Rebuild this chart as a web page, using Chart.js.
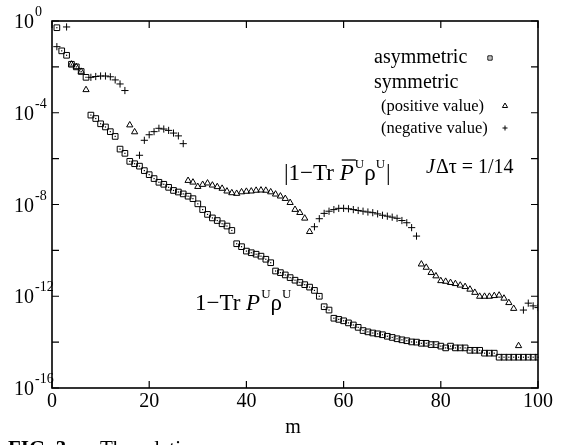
<!DOCTYPE html>
<html>
<head>
<meta charset="utf-8">
<script src="https://cdn.jsdelivr.net/npm/chart.js@4.4.1/dist/chart.umd.min.js"></script>
<style>
  html, body { margin: 0; padding: 0; background: #fff; overflow: hidden; }
  #wrap { width: 564px; height: 445px; position: relative; }
</style>
</head>
<body>
<div id="wrap"><canvas id="chart"></canvas></div>
<script>
// m values and errors (log y axis)
const asymM = [1,2,3,4,5,6,7,8,9,10,11,12,13,14,15,16,17,18,19,20,
  21,22,23,24,25,26,27,28,29,30,31,32,33,34,35,36,37,38,39,40,
  41,42,43,44,45,46,47,48,49,50,51,52,53,54,55,56,57,58,59,60,
  61,62,63,64,65,66,67,68,69,70,71,72,73,74,75,76,77,78,79,80,
  81,82,83,84,85,86,87,88,89,90,91,92,93,94,95,96,97,98,99,100];
const asymVal = [5.1e-1,5.0e-2,3.2e-2,1.3e-2,1.0e-2,6.3e-3,3.5e-3,7.9e-5,5.6e-5,3.3e-5,
  2.4e-5,1.5e-5,9.3e-6,2.6e-6,1.7e-6,7.6e-7,6.0e-7,4.7e-7,3.0e-7,2.0e-7,
  1.35e-7,9.3e-8,7.6e-8,5.6e-8,4.1e-8,3.5e-8,2.9e-8,2.3e-8,1.8e-8,1.07e-8,
  6.0e-9,3.7e-9,2.6e-9,2.0e-9,1.45e-9,1.15e-9,7.4e-10,1.95e-10,1.45e-10,9.3e-11,
  7.9e-11,6.8e-11,5.6e-11,4.1e-11,2.9e-11,1.26e-11,1.07e-11,8.5e-12,6.5e-12,5.0e-12,
  4.0e-12,3.2e-12,2.5e-12,1.8e-12,1.0e-12,3.5e-13,2.5e-13,1.1e-13,9.8e-14,8.5e-14,
  6.9e-14,5.6e-14,4.4e-14,3.2e-14,2.8e-14,2.5e-14,2.3e-14,2.1e-14,1.8e-14,1.6e-14,
  1.4e-14,1.26e-14,1.15e-14,1.02e-14,1.0e-14,8.9e-15,8.9e-15,7.8e-15,7.8e-15,6.7e-15,
  5.6e-15,6.7e-15,5.6e-15,5.6e-15,5.6e-15,4.4e-15,4.4e-15,4.4e-15,3.3e-15,3.3e-15,
  3.3e-15,2.2e-15,2.2e-15,2.2e-15,2.2e-15,2.2e-15,2.2e-15,2.2e-15,2.2e-15,2.2e-15];

const posM = [4,5,6,7,16,17,
  28,29,30,31,32,33,34,35,36,37,38,39,40,41,42,43,44,45,46,47,48,49,50,51,52,53,
  76,77,78,79,80,81,82,83,84,85,86,87,88,89,90,91,92,93,94,95,96];
const posVal = [1.3e-2,1.0e-2,6.3e-3,1.0e-3,2.9e-5,1.45e-5,
  1.1e-7,9.3e-8,6.0e-8,7.4e-8,8.5e-8,6.9e-8,5.9e-8,5.0e-8,3.8e-8,3.2e-8,3.0e-8,3.5e-8,3.7e-8,3.8e-8,
  4.1e-8,4.2e-8,4.1e-8,3.5e-8,2.8e-8,2.3e-8,1.8e-8,1.2e-8,6.0e-9,4.4e-9,2.5e-9,6.5e-10,
  2.5e-11,1.8e-11,1.07e-11,7.6e-12,4.7e-12,4.4e-12,3.9e-12,3.5e-12,3.0e-12,2.6e-12,2.0e-12,
  1.45e-12,9.8e-13,9.8e-13,9.8e-13,1.05e-12,1.1e-12,8.1e-13,5.2e-13,2.9e-13,6.9e-15];

const negM = [1,3,8,9,10,11,12,13,14,15,
  18,19,20,21,22,23,24,25,26,27,
  54,55,56,57,58,59,60,61,62,63,64,65,66,67,68,69,70,71,72,73,74,75,
  97,98,99,100];
const negVal = [7.6e-2,5.5e-1,3.5e-3,3.8e-3,4.0e-3,4.0e-3,3.7e-3,2.7e-3,1.8e-3,9.3e-4,
  1.4e-6,6.3e-6,1.1e-5,1.5e-5,2.1e-5,1.95e-5,1.7e-5,1.3e-5,9.8e-6,4.5e-6,
  1.07e-9,2.4e-9,4.1e-9,5.1e-9,6.0e-9,6.8e-9,6.8e-9,6.5e-9,6.0e-9,5.5e-9,
  5.1e-9,4.7e-9,4.4e-9,3.9e-9,3.4e-9,3.1e-9,2.8e-9,2.5e-9,2.0e-9,1.6e-9,9.8e-10,4.2e-10,
  2.5e-13,5.0e-13,3.8e-13,3.2e-13];

const xTicks = [0, 20, 40, 60, 80, 100];
const yTicks = [1, 1e-2, 1e-4, 1e-6, 1e-8, 1e-10, 1e-12, 1e-14, 1e-16];
const yLabelExp = [0, -4, -8, -12, -16];

const SERIF = '"Liberation Serif", "Times New Roman", serif';

function pts(xs, ys) {
  return xs.map((x, i) => ({ x: x, y: ys[i] }));
}

// draw a run of text pieces: {t, size, italic, dy}
function drawRuns(ctx, runs, x, y) {
  let cx = x;
  runs.forEach(r => {
    ctx.font = (r.italic ? 'italic ' : '') + r.size + 'px ' + SERIF;
    ctx.fillText(r.t, cx, y + (r.dy || 0));
    cx += ctx.measureText(r.t).width + (r.gap || 0);
    r.end = cx;
  });
  return cx;
}

const decor = {
  id: 'decor',
  afterDatasetsDraw(chart) {
    const ctx = chart.ctx;
    const a = chart.chartArea;
    const xs = chart.scales.x, ys = chart.scales.y;
    ctx.save();

    // centre dots of the asymmetric squares
    ctx.fillStyle = '#000';
    chart.getDatasetMeta(0).data.forEach(p => {
      ctx.fillRect(p.x - 0.6, p.y - 0.6, 1.2, 1.2);
    });

    // frame
    ctx.strokeStyle = '#000';
    ctx.lineWidth = 1.6;
    ctx.strokeRect(a.left, a.top, a.right - a.left, a.bottom - a.top);

    // inward ticks
    ctx.lineWidth = 1.2;
    ctx.beginPath();
    xTicks.forEach(v => {
      const px = xs.getPixelForValue(v);
      ctx.moveTo(px, a.bottom); ctx.lineTo(px, a.bottom - 7);
      ctx.moveTo(px, a.top); ctx.lineTo(px, a.top + 7);
    });
    yTicks.forEach(v => {
      const py = ys.getPixelForValue(v);
      ctx.moveTo(a.left, py); ctx.lineTo(a.left + 7, py);
      ctx.moveTo(a.right, py); ctx.lineTo(a.right - 7, py);
    });
    ctx.stroke();

    // tick labels
    ctx.fillStyle = '#000';
    ctx.textBaseline = 'alphabetic';
    ctx.font = '20px ' + SERIF;
    ctx.textAlign = 'center';
    xTicks.forEach(v => {
      ctx.fillText(String(v), xs.getPixelForValue(v), a.bottom + 19);
    });
    yLabelExp.forEach(e => {
      const py = ys.getPixelForValue(Math.pow(10, e));
      ctx.textAlign = 'right';
      ctx.font = '20px ' + SERIF;
      ctx.fillText('10', 34, py + 7);
      ctx.textAlign = 'left';
      ctx.font = '14px ' + SERIF;
      ctx.fillText(e === 0 ? '0' : String(e), 35, py - 5);
    });

    // axis title
    ctx.textAlign = 'center';
    ctx.font = '20px ' + SERIF;
    ctx.fillText('m', (a.left + a.right) / 2 - 2, 433);

    // legend
    ctx.textAlign = 'left';
    ctx.font = '20px ' + SERIF;
    ctx.fillText('asymmetric', 374, 63);
    ctx.fillText('symmetric', 374, 88);
    ctx.font = '16.5px ' + SERIF;
    ctx.fillText('(positive value)', 381, 111);
    ctx.fillText('(negative value)', 381, 133);
    ctx.lineWidth = 1;
    ctx.strokeStyle = '#000';
    ctx.fillStyle = 'rgba(0,0,0,0)';
    Chart.helpers.drawPoint(ctx, { pointStyle: 'rect', radius: 3, rotation: 0, borderWidth: 1 }, 490, 58);
    Chart.helpers.drawPoint(ctx, { pointStyle: 'triangle', radius: 3, rotation: 0, borderWidth: 1 }, 505, 106);
    Chart.helpers.drawPoint(ctx, { pointStyle: 'cross', radius: 2.5, rotation: 0, borderWidth: 1 }, 505, 128);
    ctx.fillStyle = '#000';
    ctx.fillRect(489.5, 57.5, 1, 1);

    // J dtau label
    drawRuns(ctx, [
      { t: 'J', size: 20, italic: true, gap: 1 },
      { t: '\u0394\u03c4 = 1/14', size: 20 }
    ], 426, 173);

    // |1 - Tr Pbar rho|
    const r1 = [
      { t: '|1\u2212Tr ', size: 23 },
      { t: 'P', size: 23, italic: true, gap: 1 },
      { t: 'U', size: 13, dy: -12 },
      { t: '\u03c1', size: 23 },
      { t: 'U', size: 13, dy: -12, gap: 1 },
      { t: '|', size: 23 }
    ];
    drawRuns(ctx, r1, 284, 180);
    // bar over P
    const pStart = r1[0].end, pEnd = r1[1].end;
    ctx.lineWidth = 1.3;
    ctx.beginPath();
    ctx.moveTo(pStart + 2, 160); ctx.lineTo(pEnd + 1, 160);
    ctx.stroke();

    // 1 - Tr P rho
    drawRuns(ctx, [
      { t: '1\u2212Tr ', size: 23 },
      { t: 'P', size: 23, italic: true, gap: 1 },
      { t: 'U', size: 13, dy: -12 },
      { t: '\u03c1', size: 23 },
      { t: 'U', size: 13, dy: -12 }
    ], 195, 310);

    // caption, cut off by the page edge
    ctx.font = 'bold 21px ' + SERIF;
    ctx.fillText('FIG. 3:', 8, 455);
    ctx.font = '21px ' + SERIF;
    ctx.fillText('The relative', 100, 455);

    ctx.restore();
  }
};

new Chart(document.getElementById('chart'), {
  type: 'scatter',
  data: {
    datasets: [
      {
        label: 'asymmetric',
        data: pts(asymM, asymVal),
        pointStyle: 'rect',
        pointRadius: 4,
        borderColor: '#000',
        backgroundColor: 'rgba(0,0,0,0)',
        borderWidth: 1
      },
      {
        label: 'symmetric (positive value)',
        data: pts(posM, posVal),
        pointStyle: 'triangle',
        pointRadius: 3.6,
        borderColor: '#000',
        backgroundColor: 'rgba(0,0,0,0)',
        borderWidth: 1
      },
      {
        label: 'symmetric (negative value)',
        data: pts(negM, negVal),
        pointStyle: 'cross',
        pointRadius: 3.6,
        borderColor: '#000',
        borderWidth: 1
      }
    ]
  },
  options: {
    responsive: true,
    maintainAspectRatio: false,
    animation: false,
    events: [],
    layout: { padding: { left: 52, right: 26, top: 21, bottom: 57 } },
    plugins: {
      legend: { display: false },
      tooltip: { enabled: false }
    },
    scales: {
      x: { type: 'linear', min: 0, max: 100, display: false },
      y: { type: 'logarithmic', min: 1e-16, max: 1, display: false }
    }
  },
  plugins: [decor]
});
</script>
</body>
</html>
